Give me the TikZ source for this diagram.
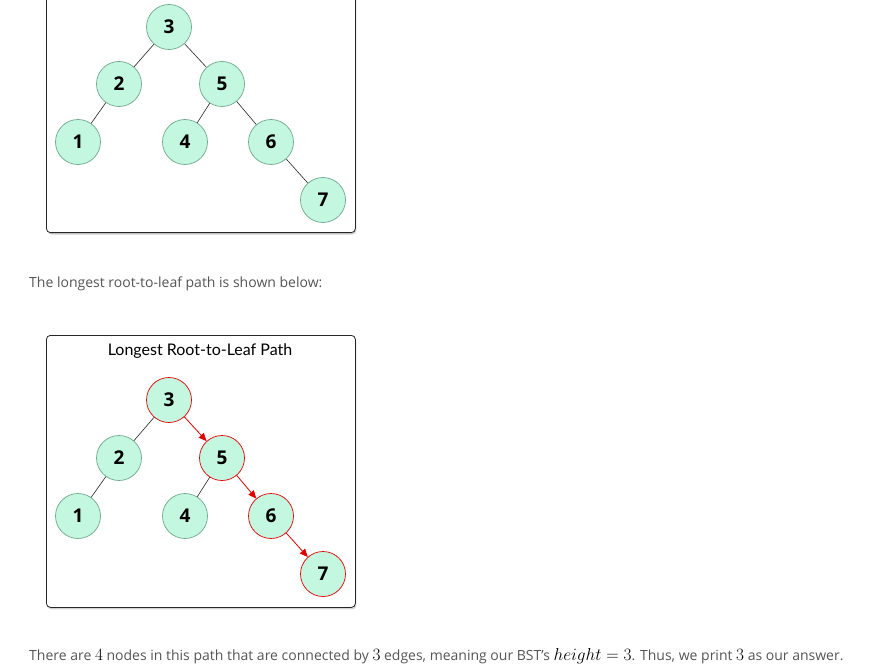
\documentclass[tikz,border=0pt]{standalone}
\usepackage{fontspec}
\setmainfont{Open Sans}
\newfontfamily\nodefont{Open Sans}
\newfontfamily\titlefont{Lato}
\usetikzlibrary{shadows,arrows.meta}
\definecolor{mint}{HTML}{C3F7E0}
\definecolor{mintline}{HTML}{6FA98C}
\definecolor{pathred}{HTML}{E00000}
\definecolor{txtgray}{HTML}{555555}
\newcommand{\bigmath}[1]{{\color{black}\fontsize{17}{19}\selectfont$#1$}}
\tikzset{
  tnode/.style={circle, minimum size=45pt, inner sep=0pt, fill=mint, draw=mintline, line width=0.7pt, font=\nodefont\bfseries\fontsize{19}{21}\selectfont},
  rnode/.style={tnode, draw=pathred},
  edge/.style={draw=black!85, line width=0.6pt},
  redge/.style={draw=pathred, line width=0.8pt, -{Triangle[length=8pt,width=7pt]}},
  panel/.style={draw=black!85, line width=0.8pt, rounded corners=4pt, fill=white, drop shadow={shadow xshift=1pt, shadow yshift=-2pt, opacity=0.35}},
  body/.style={anchor=west, text=txtgray, font=\fontsize{14}{16}\selectfont, inner sep=0pt}
}
\begin{document}
\begin{tikzpicture}[x=1pt,y=-1pt]
\useasboundingbox (0,0) rectangle (889,666);
\clip (0,0) rectangle (889,666);
% panel 1
\node[panel, minimum width=309pt, minimum height=253pt, anchor=south west] (p1) at (46,233) {};
\node[tnode] (a3) at (169,27) {3};
\node[tnode] (a2) at (119,84) {2};
\node[tnode] (a5) at (222,84) {5};
\node[tnode] (a1) at (78,142) {1};
\node[tnode] (a4) at (185,142) {4};
\node[tnode] (a6) at (271,142) {6};
\node[tnode] (a7) at (323,200) {7};
\draw[edge] (a3) -- (a2);
\draw[edge] (a3) -- (a5);
\draw[edge] (a2) -- (a1);
\draw[edge] (a5) -- (a4);
\draw[edge] (a5) -- (a6);
\draw[edge] (a6) -- (a7);
% text
\node[body] (t1) at (29,284) {The longest root-to-leaf path is shown below:};
% panel 2
\node[panel, minimum width=309pt, minimum height=272pt, anchor=north west] (p2) at (46,335) {};
\node[font=\titlefont\fontsize{16}{18}\selectfont, text=black] (title) at (200,351) {Longest Root-to-Leaf Path};
\node[rnode] (b3) at (169,400) {3};
\node[tnode] (b2) at (119,458) {2};
\node[rnode] (b5) at (222,458) {5};
\node[tnode] (b1) at (78,516) {1};
\node[tnode] (b4) at (185,516) {4};
\node[rnode] (b6) at (271,516) {6};
\node[rnode] (b7) at (323,574) {7};
\draw[edge] (b3) -- (b2);
\draw[redge] (b3) -- (b5);
\draw[edge] (b2) -- (b1);
\draw[edge] (b5) -- (b4);
\draw[redge] (b5) -- (b6);
\draw[redge] (b6) -- (b7);
% bottom text
\node[body] (t2) at (29,656) {There are \bigmath{4} nodes in this path that are connected by \bigmath{3} edges, meaning our BST's \bigmath{height = 3}. Thus, we print \bigmath{3} as our answer.};
\end{tikzpicture}
\end{document}
